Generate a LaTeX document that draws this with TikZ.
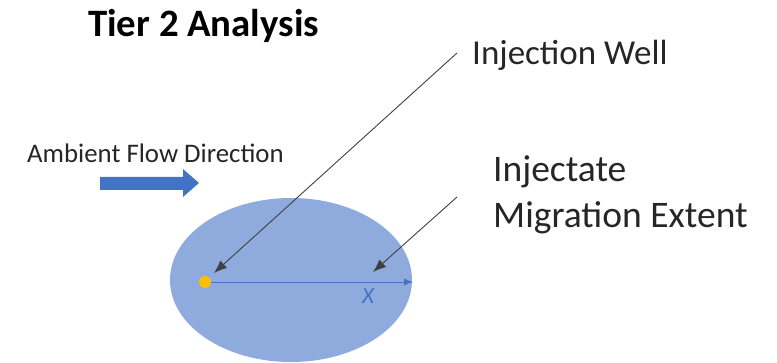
\documentclass[tikz,border=0pt]{standalone}
\usepackage{fontspec}
\setmainfont{Carlito}
\usepackage{tikz}
\usetikzlibrary{arrows.meta, positioning}
\definecolor{plume}{HTML}{8FAADC}
\definecolor{flowblue}{HTML}{4472C4}
\definecolor{wellyellow}{HTML}{FFC000}
\definecolor{labelgray}{HTML}{262626}
\tikzstyle{label} = [inner sep=0pt, anchor=base west, text=labelgray]
\tikzstyle{pointer} = [draw=black!75, line width=0.9pt, -{Latex[length=13pt,width=10pt]}]

\begin{document}
\begin{tikzpicture}[x=1pt,y=-1pt,>=latex]
  \useasboundingbox (0,0) rectangle (777,363);
  % plume and well
  \fill [plume] (291,280) ellipse [x radius=121, y radius=82];
  \node [circle, fill=wellyellow, minimum size=12pt, inner sep=0pt] (well) at (205,282) {};
  \coordinate (xend) at (413,282);
  \draw [flowblue, line width=0.9pt, -{Latex[length=9pt,width=7pt]}] (well) -- (xend);
  \node [inner sep=0pt, text=flowblue, font=\fontsize{23}{23}\selectfont\itshape] (xlabel) at (368,296) {X};
  % flow direction
  \node [label, font=\fontsize{26.8}{26.8}\selectfont] (flowtxt) at (27,163) {Ambient Flow Direction};
  \fill [flowblue] (100,177) -- (183,177) -- (183,169) -- (199,183) -- (183,197) -- (183,190) -- (100,190) -- cycle;
  % titles and labels
  \node [label, text=black, font=\fontsize{38.8}{38.8}\selectfont\bfseries] (title) at (88,37) {Tier 2 Analysis};
  \node [label, font=\fontsize{35}{35}\selectfont] (welltxt) at (472,65) {Injection Well};
  \node [label, font=\fontsize{37.5}{37.5}\selectfont] (exttxt1) at (493,182) {Injectate};
  \node [label, font=\fontsize{37.5}{37.5}\selectfont] (exttxt2) at (493,228) {Migration Extent};
  \coordinate (wellfrom) at (457,53);
  \coordinate (wellto) at (214,273);
  \coordinate (extfrom) at (457,197);
  \coordinate (extto) at (373,272);
  \draw [pointer] (wellfrom) -- (wellto);
  \draw [pointer] (extfrom) -- (extto);
\end{tikzpicture}
\end{document}
